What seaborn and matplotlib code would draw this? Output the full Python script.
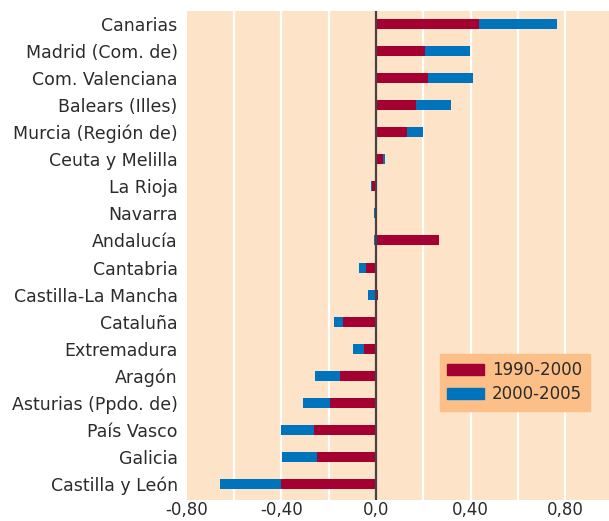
import numpy as np
import pandas as pd
import matplotlib
matplotlib.use("Agg")
import matplotlib.pyplot as plt
import seaborn as sns
from matplotlib.patches import Patch

# data
regions = ["Canarias", "Madrid (Com. de)", "Com. Valenciana", "Balears (Illes)",
           "Murcia (Región de)", "Ceuta y Melilla", "La Rioja", "Navarra",
           "Andalucía", "Cantabria", "Castilla-La Mancha", "Cataluña",
           "Extremadura", "Aragón", "Asturias (Ppdo. de)", "País Vasco",
           "Galicia", "Castilla y León"]
v_1990_2000 = [0.435, 0.207, 0.220, 0.169, 0.131, 0.030, -0.018, 0.003,
               0.266, -0.044, 0.008, -0.139, -0.051, -0.152, -0.194, -0.263,
               -0.249, -0.401]
v_2000_2005 = [0.330, 0.190, 0.190, 0.148, 0.068, 0.008, -0.004, -0.008,
               -0.008, -0.028, -0.034, -0.038, -0.046, -0.106, -0.114, -0.138,
               -0.148, -0.258]
tick_vals = [-0.8, -0.4, 0.0, 0.4, 0.8]
tick_labels = ["-0,80", "-0,40", "0,0", "0,40", "0,80"]

RED = "#a50032"
BLUE = "#0073bd"
BG = "#fde4c9"
LEGBG = "#fbbf87"

df = pd.DataFrame({"region": regions, "a": v_1990_2000, "b": v_2000_2005})
# second period stacks onto the first when same sign, otherwise starts at zero
same = np.sign(df["a"]) == np.sign(df["b"])
df["b_end"] = np.where(same, df["a"] + df["b"], df["b"])

sns.set_style("white")
plt.rcParams["font.family"] = ["DejaVu Sans"]

fig = plt.figure(figsize=(6.09, 5.21), dpi=100)
ax = fig.add_axes([0.3066, 0.0403, 0.6934, 0.9386])
ax.set_facecolor(BG)

sns.barplot(data=df, x="b_end", y="region", color=BLUE, width=0.37,
            saturation=1, linewidth=0, ax=ax, zorder=3)
sns.barplot(data=df, x="a", y="region", color=RED, width=0.37,
            saturation=1, linewidth=0, ax=ax, zorder=4)

ax.set_xlim(-0.8, 0.984)
ax.set_ylim(len(regions) - 0.41, -0.48)
for g in np.arange(-0.6, 0.81, 0.2):
    if abs(g) > 1e-9:
        ax.axvline(g, color="white", lw=1.6, zorder=1)
ax.axvline(0, color="#4a4040", lw=1.6, zorder=5)

ax.set_xticks(tick_vals)
ax.set_xticklabels(tick_labels)
ax.set_xlabel("")
ax.set_ylabel("")
ax.tick_params(axis="both", length=0, labelsize=12.5, colors="#2b2b2b")
ax.tick_params(axis="y", pad=6.5)
ax.tick_params(axis="x", pad=1, labelsize=12)
for s in ax.spines.values():
    s.set_visible(False)

handles = [Patch(color=RED, label="1990-2000"), Patch(color=BLUE, label="2000-2005")]
leg = ax.legend(handles=handles, loc="upper left", bbox_to_anchor=(0.599, 0.2986),
                frameon=True, fancybox=False, fontsize=12, handlelength=2.2,
                handleheight=0.6, borderpad=0.45, labelspacing=0.35,
                handletextpad=0.5, borderaxespad=0)
leg.get_frame().set_facecolor(LEGBG)
leg.get_frame().set_edgecolor(LEGBG)
leg.get_frame().set_alpha(1)
for t in leg.get_texts():
    t.set_color("#2b2b2b")

fig.savefig("out.png", dpi=100)
